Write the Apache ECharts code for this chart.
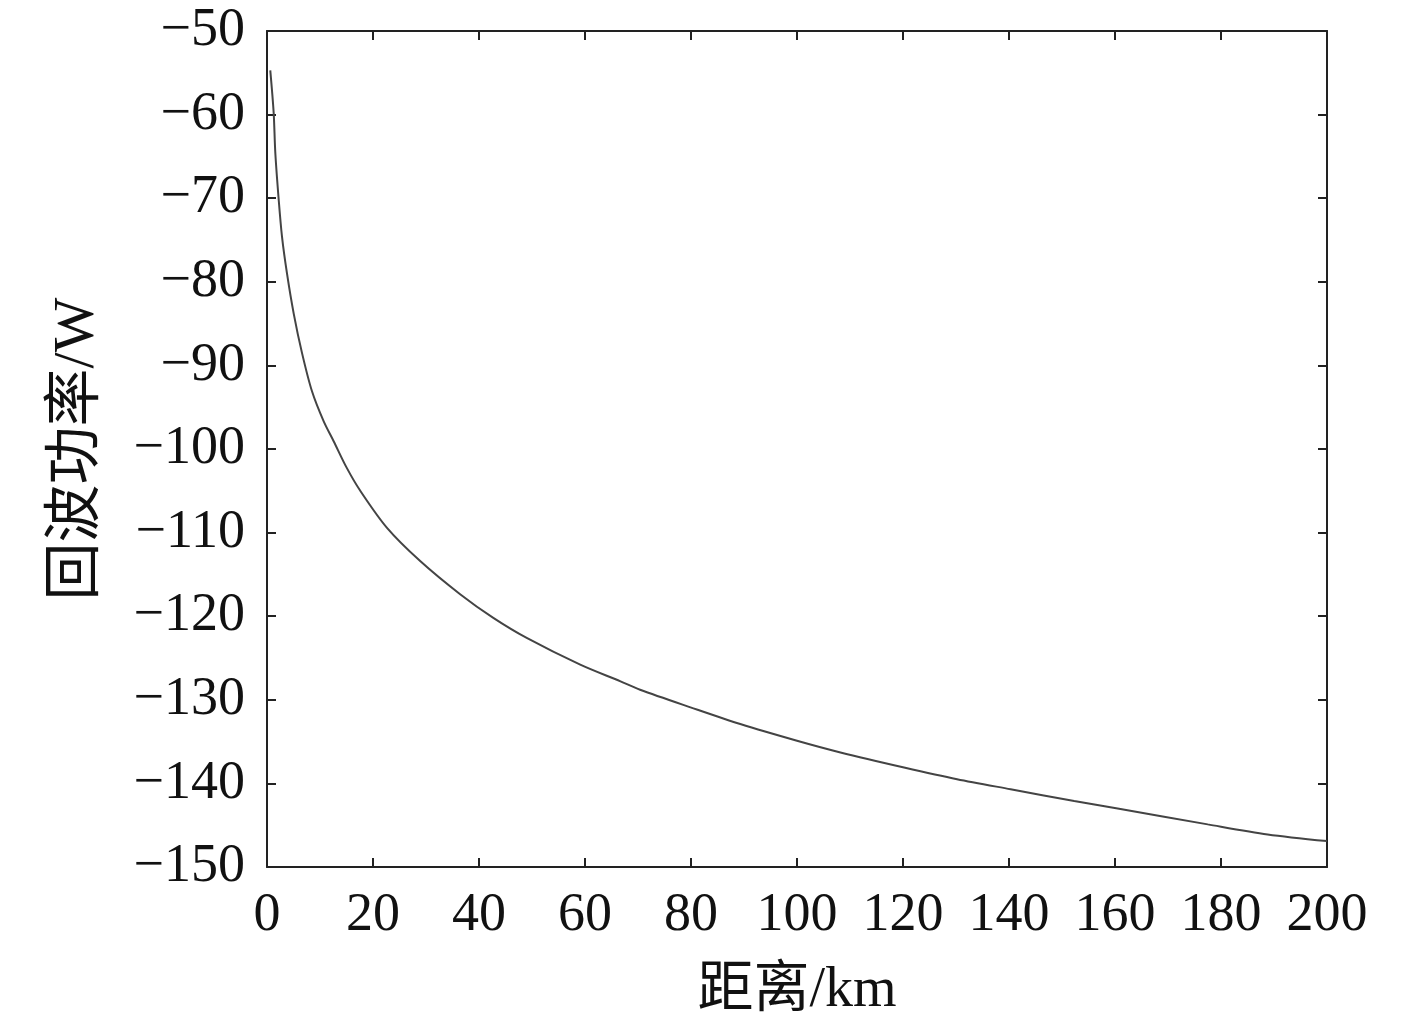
<!DOCTYPE html>
<html>
<head>
<meta charset="utf-8">
<script src="https://cdn.jsdelivr.net/npm/echarts@6/dist/echarts.min.js"></script>
<style>
  html, body { margin: 0; padding: 0; background: #fff; }
  #chart { width: 1417px; height: 1016px; }
</style>
</head>
<body>
<div id="chart"></div>
<script>
// 距离 (km) 与回波功率
const distance = [0.62, 1.26, 1.57, 2.21, 2.83, 3.77, 5.04, 6.60, 8.49, 10.7, 12.6, 15.0, 17.6, 22.6, 28.9, 36.5, 42.7, 49.0,
  59.1, 66.7, 70.4, 79.9, 89.3, 100.0, 108.2, 120.2, 130.2, 140.3, 152.3, 160.5, 177.5, 188.8, 200.0]
const power = [-54.7, -59.8, -64.6, -70.2, -74.6, -79.0, -83.8, -88.5, -93.1, -96.7, -99.1, -102.2, -105.0, -109.4, -113.4, -117.4, -120.2, -122.6,
  -125.8, -127.8, -128.8, -130.9, -132.9, -134.9, -136.3, -138.1, -139.5, -140.7, -142.1, -143.0, -144.9, -146.1, -146.9]
const xTicks = { min: 0, max: 200, interval: 20 }
const yTicks = { min: -150, max: -50, interval: 10 }

const font = '"Liberation Serif", "Noto Sans CJK SC", serif'
const axisColor = '#222'
const minus = v => String(v).replace('-', '\u2212')

const boxAxis = (extra) => Object.assign({
  type: 'value',
  axisLine: { show: true, onZero: false, lineStyle: { color: axisColor, width: 2 } },
  axisTick: { show: true, inside: true, length: 9, lineStyle: { color: axisColor, width: 2 } },
  splitLine: { show: false }
}, extra)

const chart = echarts.init(document.getElementById('chart'))
chart.setOption({
  animation: false,
  backgroundColor: '#fff',
  grid: { left: 267, right: 90, top: 31, bottom: 149, containLabel: false, outerBoundsMode: 'none' },
  xAxis: [
    boxAxis(Object.assign({}, xTicks, {
      position: 'bottom',
      name: '距离/km',
      nameLocation: 'middle',
      nameGap: 96,
      nameTextStyle: { fontFamily: font, fontSize: 56, color: '#111' },
      axisLabel: { margin: 22, fontFamily: font, fontSize: 54, color: '#111', formatter: minus }
    })),
    boxAxis(Object.assign({}, xTicks, { position: 'top', axisLabel: { show: false } }))
  ],
  yAxis: [
    boxAxis(Object.assign({}, yTicks, {
      position: 'left',
      name: '回波功率/W',
      nameLocation: 'middle',
      nameGap: 160,
      nameRotate: 90,
      nameTextStyle: { fontFamily: font, fontSize: 58, color: '#111' },
      axisLabel: { margin: 22, fontFamily: font, fontSize: 54, color: '#111', formatter: minus }
    })),
    boxAxis(Object.assign({}, yTicks, { position: 'right', axisLabel: { show: false } }))
  ],
  series: [{
    type: 'line',
    data: distance.map((d, i) => [d, power[i]]),
    smooth: 0.3,
    showSymbol: false,
    lineStyle: { color: '#444', width: 2 }
  }]
})
</script>
</body>
</html>
